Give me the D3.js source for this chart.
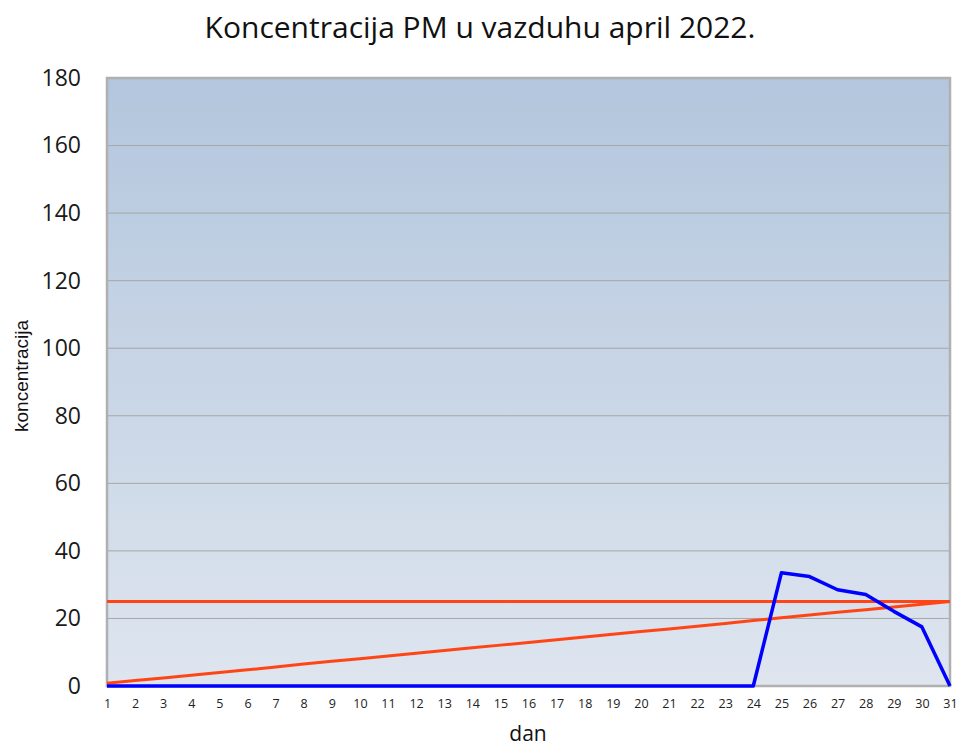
<!DOCTYPE html>
<html>
<head>
<meta charset="utf-8">
<script src="https://cdn.jsdelivr.net/npm/d3@7"></script>
<style>
  body { margin: 0; background: #fff; }
  svg { display: block; font-family: "Open Sans", "DejaVu Sans", sans-serif; }
</style>
</head>
<body>
<div id="chart"></div>
<script>
// days of april
const days = d3.range(1, 32);
// measured concentration
const pm = [0,0,0,0,0,0,0,0,0,0,0,0,0,0,0,0,0,0,0,0,0,0,0,0,
            33.5,32.4,28.5,27.1,22.1,17.5,0];
// limit value
const limit = [25,25,25,25,25,25,25,25,25,25,25,25,25,25,25,25,25,25,25,25,25,25,25,25,25,25,25,25,25,25,25];
// rising line
const rising = [0.8,1.6,2.4,3.2,4.0,4.8,5.6,6.5,7.3,8.1,8.9,9.7,10.5,11.3,12.1,12.9,
                13.7,14.5,15.3,16.1,16.9,17.7,18.5,19.4,20.2,21.0,21.8,22.6,23.4,24.2,25.0];
const yTicks = [0,20,40,60,80,100,120,140,160,180];

let svgWidth = 962, svgHeight = 749;
let margin = {top: 78, right: 12, bottom: 63, left: 107},
    width = svgWidth - margin.left - margin.right,
    height = svgHeight - margin.top - margin.bottom;

let svg = d3.select("#chart").append("svg")
    .attr("width", svgWidth)
    .attr("height", svgHeight);

let defs = svg.append("defs");
let grad = defs.append("linearGradient")
    .attr("id", "bg").attr("x1", 0).attr("y1", 0).attr("x2", 0).attr("y2", 1);
grad.append("stop").attr("offset", "0%").attr("stop-color", "#b3c6dd");
grad.append("stop").attr("offset", "100%").attr("stop-color", "#dee5ef");

let x = d3.scaleLinear().domain([1, 31]).range([0, width]),
    y = d3.scaleLinear().domain([0, 180]).range([height, 0]);

let g = svg.append("g")
    .attr("transform", "translate(" + margin.left + "," + margin.top + ")");

// plot background
g.append("rect")
    .attr("x", 0).attr("y", 0)
    .attr("width", width).attr("height", height)
    .attr("fill", "url(#bg)");

// grid
g.selectAll(".grid")
    .data(yTicks.filter(d => d > 0))
    .enter().append("line")
      .attr("class", "grid")
      .attr("x1", 0).attr("x2", width)
      .attr("y1", d => y(d)).attr("y2", d => y(d))
      .attr("stroke", "#a6a6a6")
      .attr("stroke-width", 1);

// frame
g.append("rect")
    .attr("x", 0).attr("y", 0)
    .attr("width", width).attr("height", height)
    .attr("fill", "none")
    .attr("stroke", "#b0b0b0")
    .attr("stroke-width", 2.5);

// y axis labels
g.append("g")
    .attr("class", "axis axis--y")
    .call(d3.axisLeft(y).tickValues(yTicks).tickSize(0).tickPadding(26))
    .call(a => a.select(".domain").remove())
    .selectAll("text")
      .attr("font-size", "23px")
      .attr("fill", "#1a1a1a")
      .style("font-family", "'Open Sans', sans-serif");

// x axis labels
g.append("g")
    .attr("class", "axis axis--x")
    .attr("transform", "translate(0," + height + ")")
    .call(d3.axisBottom(x).tickValues(days).tickFormat(d3.format("d")).tickSize(0).tickPadding(13))
    .call(a => a.select(".domain").remove())
    .selectAll("text")
      .attr("font-size", "12.5px")
      .attr("fill", "#222")
      .style("font-family", "'Open Sans', sans-serif");

let line = d3.line()
    .x((d, i) => x(days[i]))
    .y(d => y(d));

g.append("path").datum(rising)
    .attr("fill", "none").attr("stroke", "#ff4515").attr("stroke-width", 3)
    .attr("d", line);
g.append("path").datum(limit)
    .attr("fill", "none").attr("stroke", "#ff4515").attr("stroke-width", 3)
    .attr("d", line);
g.append("path").datum(pm)
    .attr("fill", "none").attr("stroke", "#0000ff").attr("stroke-width", 3.5)
    .attr("stroke-linejoin", "round")
    .attr("d", line);

// titles
svg.append("text")
    .attr("x", 480).attr("y", 38)
    .attr("text-anchor", "middle")
    .attr("font-size", "30px")
    .attr("fill", "#111")
    .text("Koncentracija  PM u vazduhu april 2022.");

svg.append("text")
    .attr("transform", "translate(28,376) rotate(-90)")
    .attr("text-anchor", "middle")
    .attr("font-size", "19px")
    .attr("fill", "#111")
    .style("font-family", "'Liberation Sans', Arial, sans-serif")
    .text("koncentracija");

svg.append("text")
    .attr("x", 528).attr("y", 741)
    .attr("text-anchor", "middle")
    .attr("font-size", "21px")
    .attr("fill", "#111")
    .text("dan");
</script>
</body>
</html>
